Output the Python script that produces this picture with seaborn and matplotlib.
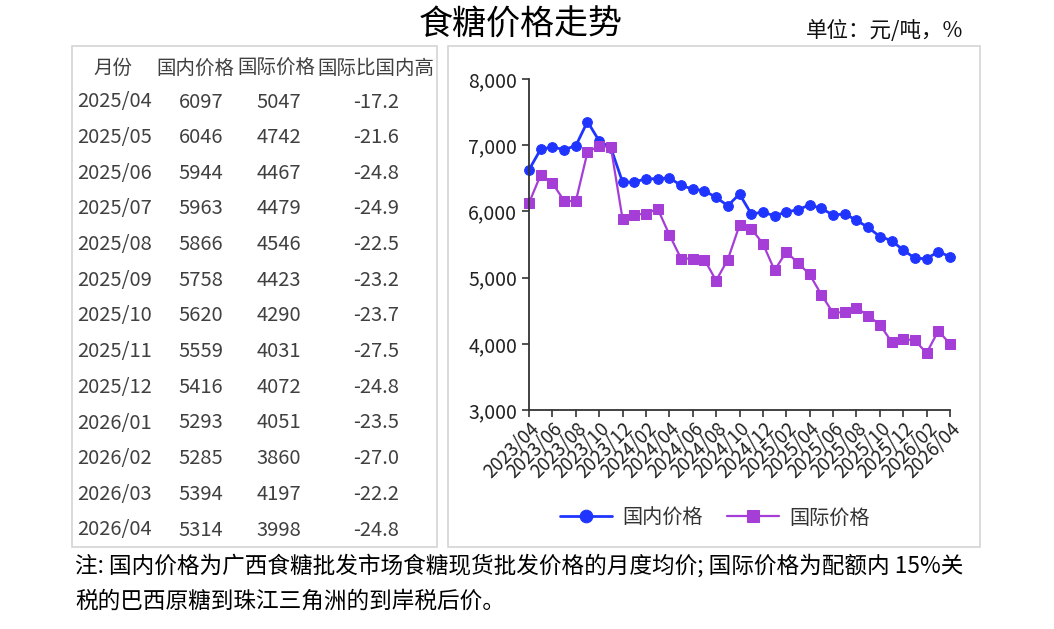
import numpy as np
import pandas as pd
import matplotlib
matplotlib.use('Agg')
import matplotlib.pyplot as plt
import matplotlib.ticker as mticker
from matplotlib.patches import Rectangle
import seaborn as sns

sns.set_theme(style='white')
plt.rcParams['font.family'] = ['Noto Sans CJK SC', 'DejaVu Sans']
plt.rcParams['axes.unicode_minus'] = False

# 月份 2023/04 ~ 2026/04
months = ['2023/04', '2023/05', '2023/06', '2023/07', '2023/08', '2023/09', '2023/10', '2023/11', '2023/12',
          '2024/01', '2024/02', '2024/03', '2024/04', '2024/05', '2024/06', '2024/07', '2024/08', '2024/09',
          '2024/10', '2024/11', '2024/12', '2025/01', '2025/02', '2025/03', '2025/04', '2025/05', '2025/06',
          '2025/07', '2025/08', '2025/09', '2025/10', '2025/11', '2025/12', '2026/01', '2026/02', '2026/03',
          '2026/04']
domestic = [6628, 6940, 6970, 6935, 6990, 7357, 7065, 6960, 6443, 6443, 6493, 6493, 6508, 6392, 6337, 6312,
            6211, 6086, 6262, 5965, 5985, 5935, 5990, 6026, 6097, 6046, 5944, 5963, 5866, 5758, 5620, 5559,
            5416, 5293, 5285, 5394, 5314]
intl = [6126, 6553, 6428, 6161, 6151, 6895, 6990, 6970, 5885, 5950, 5965, 6041, 5649, 5287, 5287, 5272,
        4955, 5272, 5790, 5740, 5513, 5111, 5388, 5222, 5047, 4742, 4467, 4479, 4546, 4423, 4290, 4031,
        4072, 4051, 3860, 4197, 3998]

# 表格数据
table_header = ['月份', '国内价格', '国际价格', '国际比国内高']
table_months = ['2025/04', '2025/05', '2025/06', '2025/07', '2025/08', '2025/09', '2025/10',
                '2025/11', '2025/12', '2026/01', '2026/02', '2026/03', '2026/04']
table_dom = [6097, 6046, 5944, 5963, 5866, 5758, 5620, 5559, 5416, 5293, 5285, 5394, 5314]
table_intl = [5047, 4742, 4467, 4479, 4546, 4423, 4290, 4031, 4072, 4051, 3860, 4197, 3998]
table_diff = [-17.2, -21.6, -24.8, -24.9, -22.5, -23.2, -23.7, -27.5, -24.8, -23.5, -27.0, -22.2, -24.8]

blue = '#1f35ff'
purple = '#a43ed6'

df = pd.DataFrame({'pos': np.arange(len(months)), 'month': months,
                   '国内价格': domestic, '国际价格': intl})

W, H = 1054, 629
fig = plt.figure(figsize=(W / 100, H / 100), dpi=100)

def fx(px):
    return px / W

def fy(py):
    return 1 - py / H

# 外框
for x0, x1 in [(72, 437), (448, 980)]:
    fig.patches.append(Rectangle((fx(x0), fy(547)), fx(x1 - x0), (547 - 46) / H,
                                 transform=fig.transFigure, fill=False,
                                 edgecolor='#d4d4d4', lw=1.2))

fig.text(fx(521), fy(25), '食糖价格走势', ha='center', va='center', fontsize=24.5, color='black')
fig.text(fx(885), fy(31), '单位：元/吨，%', ha='center', va='center', fontsize=15.5, color='#111111')

# 表格
txt_color = '#404040'
col_x = [113, 195, 276, 376]
for i in range(4):
    fig.text(fx(col_x[i]), fy(68), table_header[i], ha='center', va='center', fontsize=14, color=txt_color)
row_y = np.linspace(102, 530, len(table_months))
for y, m, d, it, df_ in zip(row_y, table_months, table_dom, table_intl, table_diff):
    fig.text(fx(77), fy(y), m, ha='left', va='center', fontsize=14.5, color=txt_color)
    fig.text(fx(201), fy(y), str(d), ha='center', va='center', fontsize=14.5, color=txt_color)
    fig.text(fx(279), fy(y), str(it), ha='center', va='center', fontsize=14.5, color=txt_color)
    fig.text(fx(376), fy(y), f'{df_:.1f}', ha='center', va='center', fontsize=14.5, color=txt_color)

# 折线图
ax = fig.add_axes([fx(529), fy(410), fx(950 - 529), (410 - 79) / H])
sns.lineplot(data=df, x='pos', y='国内价格', ax=ax, color=blue, lw=2, marker='o',
             markersize=7, markeredgecolor=blue, label='国内价格', clip_on=False)
sns.lineplot(data=df, x='pos', y='国际价格', ax=ax, color=purple, lw=1.6, marker='s',
             markersize=6.5, markeredgecolor=purple, label='国际价格', clip_on=False)

ax.set_xlim(0, len(months) - 1)
ax.set_ylim(3000, 8000)
ax.set_yticks([3000, 4000, 5000, 6000, 7000, 8000])
ax.yaxis.set_major_formatter(mticker.FuncFormatter(lambda v, p: f'{int(v):,}'))
ax.set_xticks(df['pos'][::2])
ax.set_xticklabels(df['month'][::2], rotation=45, ha='right', rotation_mode='anchor')
ax.tick_params(axis='both', colors='#333333', labelcolor='#222222', length=5, width=1.2,
               direction='out', bottom=True, left=True)
ax.tick_params(axis='y', labelsize=14)
ax.tick_params(axis='x', labelsize=13.5, pad=1)
ax.set_xlabel('')
ax.set_ylabel('')
sns.despine(ax=ax)
for s in ['left', 'bottom']:
    ax.spines[s].set_color('#333333')
    ax.spines[s].set_linewidth(1.3)
ax.grid(False)

leg = ax.legend(loc='center', bbox_to_anchor=(fx(715), fy(518)), bbox_transform=fig.transFigure,
                ncol=2, frameon=False, fontsize=14.5, handlelength=2.6, columnspacing=1.2,
                handletextpad=0.5, markerscale=1.3)
for t in leg.get_texts():
    t.set_color('#333333')

# 注释
fig.text(fx(75), fy(566), '注: 国内价格为广西食糖批发市场食糖现货批发价格的月度均价; 国际价格为配额内 15%关',
         ha='left', va='center', fontsize=16.3, color='black')
fig.text(fx(75), fy(601), '税的巴西原糖到珠江三角洲的到岸税后价。',
         ha='left', va='center', fontsize=16.3, color='black')

fig.savefig('out.png', dpi=100)
